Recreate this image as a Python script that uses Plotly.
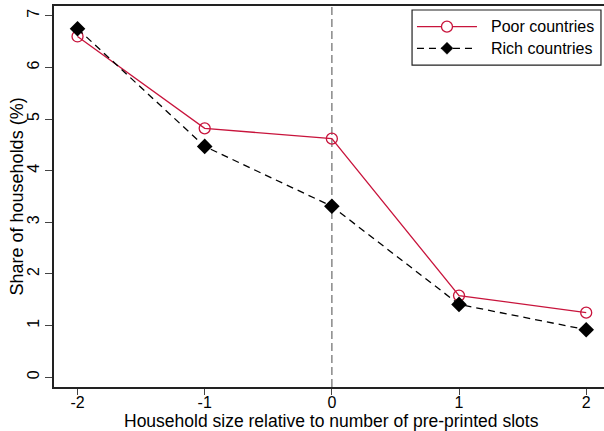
import plotly.graph_objects as go

# Household size relative to number of pre-printed slots
x_vals = [-2, -1, 0, 1, 2]
poor_share = [6.60, 4.82, 4.62, 1.58, 1.25]
rich_share = [6.75, 4.47, 3.31, 1.41, 0.92]

x_ticks = [-2, -1, 0, 1, 2]
y_ticks = [0, 1, 2, 3, 4, 5, 6, 7]

series_names = ["Poor countries", "Rich countries"]
x_title = "Household size relative to number of pre-printed slots"
y_title = "Share of households (%)"

RED = "#C8143C"
FONT = "Liberation Sans, Arial, sans-serif"
RICH_DASH = "7px,5px"

fig = go.Figure()

fig.add_trace(go.Scatter(
    x=x_vals, y=poor_share, name=series_names[0],
    mode="lines+markers",
    line=dict(color=RED, width=1.3),
    marker=dict(symbol="circle-open", size=11, color=RED, line=dict(width=1.3, color=RED)),
))
fig.add_trace(go.Scatter(
    x=x_vals, y=rich_share, name=series_names[1],
    mode="lines+markers",
    line=dict(color="black", width=1.3, dash=RICH_DASH),
    marker=dict(symbol="diamond", size=12, color="black"),
))

# reference line at zero
fig.add_vline(x=0, line=dict(color="#888888", width=1.5, dash="8px,4px"), layer="below")

# legend box drawn with wide symbol samples
box = dict(x0=0.651, x1=0.9945, y0=0.845, y1=0.9895)
rows_y = [0.9457, 0.889]
sample_x = 0.7145          # centre of the symbol sample
text_x = 0.791             # left edge of the legend text

fig.add_shape(type="rect", xref="paper", yref="paper", **box,
              line=dict(color="#222222", width=1.2), fillcolor="white", layer="above")

# row 1: solid red line with open circle
fig.add_shape(type="line", xref="paper", yref="paper", xsizemode="pixel", ysizemode="pixel",
              xanchor=sample_x, yanchor=rows_y[0], x0=-30, x1=30, y0=0, y1=0,
              line=dict(color=RED, width=1.3), layer="above")
fig.add_shape(type="circle", xref="paper", yref="paper", xsizemode="pixel", ysizemode="pixel",
              xanchor=sample_x, yanchor=rows_y[0], x0=-5.5, x1=5.5, y0=-5.5, y1=5.5,
              line=dict(color=RED, width=1.3), fillcolor="white", layer="above")

# row 2: dashed black line with filled diamond
fig.add_shape(type="line", xref="paper", yref="paper", xsizemode="pixel", ysizemode="pixel",
              xanchor=sample_x, yanchor=rows_y[1], x0=-30, x1=30, y0=0, y1=0,
              line=dict(color="black", width=1.3, dash=RICH_DASH), layer="above")
fig.add_shape(type="path", xref="paper", yref="paper", xsizemode="pixel", ysizemode="pixel",
              xanchor=sample_x, yanchor=rows_y[1], path="M -6 0 L 0 6 L 6 0 L 0 -6 Z",
              line=dict(color="black", width=0.5), fillcolor="black", layer="above")

for name, ry in zip(series_names, rows_y):
    fig.add_annotation(text=name, xref="paper", yref="paper", x=text_x, y=ry,
                       xanchor="left", yanchor="middle", showarrow=False,
                       font=dict(size=16, family=FONT, color="black"))

# axis titles
fig.add_annotation(text=x_title, xref="paper", yref="paper", x=0.5045, y=-0.0892,
                   xanchor="center", yanchor="middle", showarrow=False,
                   font=dict(size=17.5, family=FONT, color="black"))
fig.add_annotation(text=y_title, xref="paper", yref="paper", x=-0.0673, y=0.5,
                   xanchor="center", yanchor="middle", showarrow=False, textangle=-90,
                   font=dict(size=18, family=FONT, color="black"))

fig.update_layout(
    width=604, height=431,
    margin=dict(l=54, r=0, t=6, b=44),
    paper_bgcolor="white", plot_bgcolor="white",
    font=dict(family=FONT, size=16, color="black"),
    showlegend=False,
    xaxis=dict(
        range=[-2.185, 2.14], tickvals=x_ticks, ticktext=[str(v) for v in x_ticks],
        showgrid=False, zeroline=False,
        showline=True, linecolor="#222222", linewidth=1.5, mirror=True,
        ticks="outside", ticklen=6, tickcolor="#444444", tickwidth=1,
        tickfont=dict(size=16), ticklabelstandoff=-6,
    ),
    yaxis=dict(
        range=[-0.19, 7.19], tickvals=y_ticks, ticktext=[str(v) for v in y_ticks],
        showgrid=False, zeroline=False,
        showline=True, linecolor="#222222", linewidth=1.5,
        ticks="outside", ticklen=7, tickcolor="#444444", tickwidth=1,
        tickangle=-90, tickfont=dict(size=16),
    ),
)

fig.write_html("out.html")
